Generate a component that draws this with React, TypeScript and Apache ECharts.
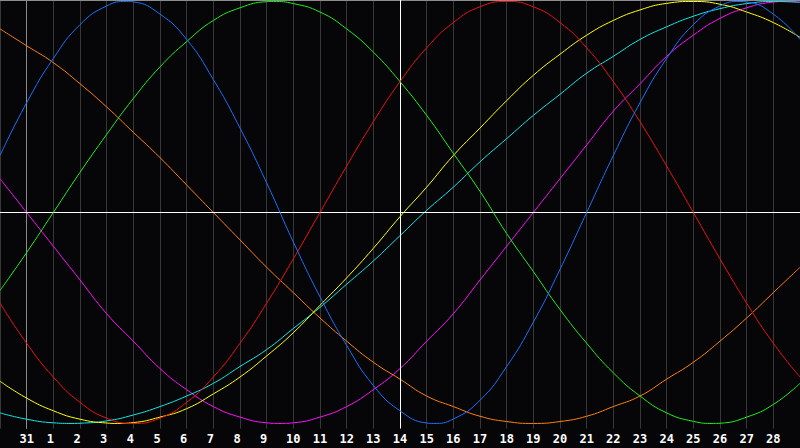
import React, { useEffect, useRef } from "react";
import * as echarts from "echarts";

const dayLabels = ["30", "31", "1", "2", "3", "4", "5", "6", "7", "8", "9", "10", "11", "12", "13", "14", "15", "16", "17", "18", "19", "20", "21", "22", "23", "24", "25", "26", "27", "28", "1"];

const blueValues = [27, 52, 73, 89, 97.9, 99.8, 94, 82, 63, 40, 14, -14, -40, -63, -82, -94, -99.8, -97.9, -89, -73, -52, -27, 0, 27, 52, 73, 89, 97.9, 99.8, 94, 82];
const redValues = [-43, -62, -78, -90, -97.5, -100, -97.5, -90, -78, -62, -43, -22, 0, 22, 43, 62, 78, 90, 97.5, 100, 97.5, 90, 78, 62, 43, 22, 0, -22, -43, -62, -78];
const greenValues = [-37, -19, 0, 19, 37, 54, 69, 81, 91, 97, 99.9, 99, 95, 87, 76, 62, 46, 28, 10, -10, -28, -46, -62, -76, -87, -95, -99, -99.9, -97, -91, -81];
const magentaValues = [16, 0, -16, -32, -48, -61, -74, -84, -92, -97, -99.7, -99.7, -97, -92, -84, -74, -61, -48, -32, -16, 0, 16, 32, 48, 61, 74, 84, 92, 97, 99.7, 99.7];
const yellowValues = [-80, -88, -94, -98, -99.8, -99.6, -97, -93, -86, -78, -68, -57, -44, -31, -17, -2, 12, 27, 40, 53, 65, 75, 84, 91, 96, 99.1, 100, 98.7, 95, 90, 83];
const orangeValues = [87, 79, 71, 61, 50, 38, 26, 13, 0, -13, -26, -38, -50, -61, -71, -79, -87, -92, -96.6, -99.1, -100, -99.1, -96.6, -92, -87, -79, -71, -61, -50, -38, -26];
const cyanValues = [-95, -98, -99.7, -99.9, -98.8, -96, -92, -87, -81, -73, -65, -55, -45, -34, -23, -11, 1, 12, 24, 35, 46, 56, 66, 74, 82, 88, 93, 96.6, 99, 100, 99.6];

// turning points: [day position, value]
const blueTurns = [[3.75, 100], [15.25, -100], [26.75, 100]];
const greenTurns = [[9.25, 100], [25.75, -100]];
const magentaTurns = [[9.5, -100], [28.5, 100]];
const yellowTurns = [[3.4, -100]];
const cyanTurns = [[1.7, -100]];
const noTurns: number[][] = [];

const dayPositions = dayLabels.map((_, i) => i - 1);

const buildPoints = (values: number[], turns: number[][]) =>
  [...values.map((v, i) => [dayPositions[i], v]), ...turns].sort((a, b) => a[0] - b[0]);

const seriesDefs = [
  { name: "orange", color: "#ff8010", values: orangeValues, turns: noTurns },
  { name: "magenta", color: "#ff10ff", values: magentaValues, turns: magentaTurns },
  { name: "cyan", color: "#10e8e8", values: cyanValues, turns: cyanTurns },
  { name: "yellow", color: "#ffff10", values: yellowValues, turns: yellowTurns },
  { name: "green", color: "#20ee20", values: greenValues, turns: greenTurns },
  { name: "red", color: "#f01010", values: redValues, turns: noTurns },
  { name: "blue", color: "#1a70ff", values: blueValues, turns: blueTurns },
];

const CENTER_DAY = 14;

export default function App() {
  const ref = useRef<HTMLDivElement>(null);
  useEffect(() => {
    if (!ref.current) return;
    const chart = echarts.init(ref.current, undefined, { renderer: "svg" });
    const first = dayPositions[0];
    const lastPos = dayPositions[dayPositions.length - 1];
    chart.setOption({
      animation: false,
      backgroundColor: "#060608",
      grid: { left: 0, right: 0, top: 0, bottom: 19.5 },
      xAxis: [
        {
          type: "value",
          min: first,
          max: lastPos,
          interval: 1,
          axisLine: { show: true, lineStyle: { color: "#8c8c8c", width: 1 } },
          axisTick: { show: false },
          splitLine: { show: true, lineStyle: { color: "#383838", width: 1 } },
          axisLabel: {
            show: true,
            margin: 4,
            showMinLabel: false,
            showMaxLabel: false,
            formatter: (v: number) => {
              const i = Math.round(v) - first;
              if (i <= 0 || i >= dayLabels.length - 1) return "";
              const t = dayLabels[i];
              return t.length === 1 ? `{b|${t}}` : `{a|${t}}`;
            },
            rich: {
              a: { color: "#ffffff", fontFamily: "DejaVu Sans Mono", fontWeight: "bold", fontSize: 12 },
              b: { color: "#ffffff", fontFamily: "DejaVu Sans Mono", fontWeight: "bold", fontSize: 12, padding: [0, 6, 0, 0] },
            },
          },
        },
        {
          type: "value",
          min: first,
          max: lastPos,
          interval: 1,
          position: "top",
          axisLine: { show: true, lineStyle: { color: "#8c8c8c", width: 1 } },
          axisTick: { show: false },
          axisLabel: { show: false },
          splitLine: { show: false },
        },
      ],
      yAxis: {
        type: "value",
        min: -102.4,
        max: 100.7,
        axisLine: { show: true, lineStyle: { color: "#8c8c8c", width: 1 } },
        axisTick: { show: false },
        axisLabel: { show: false },
        splitLine: { show: false },
      },
      series: [
        {
          type: "line",
          data: [],
          silent: true,
          markLine: {
            silent: true,
            symbol: ["none", "none"],
            label: { show: false },
            lineStyle: { color: "#ffffff", width: 1, type: "solid" },
            data: [{ xAxis: CENTER_DAY }, { yAxis: 0 }],
          },
          z: 1,
        },
        ...seriesDefs.map((s, i) => ({
          type: "line",
          name: s.name,
          data: buildPoints(s.values, s.turns),
          smooth: 0.5,
          clip: false,
          showSymbol: false,
          symbol: "none",
          lineStyle: { color: s.color, width: 1 },
          itemStyle: { color: s.color },
          z: 2 + i,
        })),
      ],
    });
    return () => chart.dispose();
  }, []);
  return (
    <div
      ref={ref}
      style={{ position: "fixed", left: 0, top: 0, width: 800, height: 448, background: "#060608" }}
    />
  );
}
